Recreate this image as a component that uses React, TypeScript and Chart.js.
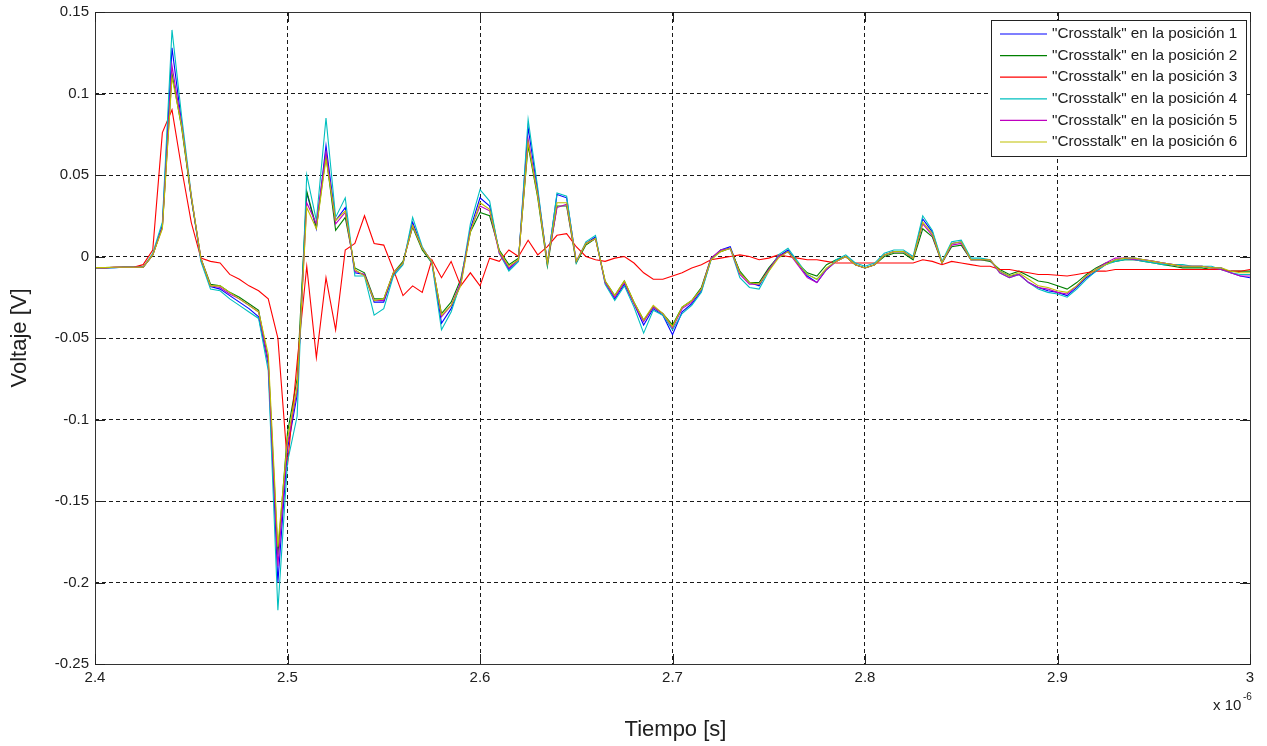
import React, { useEffect, useRef } from "react";
import { Chart, registerables } from "chart.js";

Chart.register(...registerables);

// Time axis: samples every 5 ns from 2.400 µs to 3.000 µs (121 samples)
const TIME_START_US = 2.4;
const TIME_STEP_US = 0.005;
const SAMPLE_COUNT = 121;

const X_TICK_LABELS = ["2.4", "2.5", "2.6", "2.7", "2.8", "2.9", "3"];
const Y_TICK_LABELS = ["0.15", "0.1", "0.05", "0", "-0.05", "-0.1", "-0.15", "-0.2", "-0.25"];

const SERIES_LABELS = [
  '"Crosstalk" en la posición 1',
  '"Crosstalk" en la posición 2',
  '"Crosstalk" en la posición 3',
  '"Crosstalk" en la posición 4',
  '"Crosstalk" en la posición 5',
  '"Crosstalk" en la posición 6',
];
const SERIES_COLORS = ["#0000ff", "#008000", "#ff0000", "#00bfbf", "#bf00bf", "#bfbf00"];

const POS1 = [
  -0.007, -0.007, -0.0068, -0.0066, -0.0066, -0.0066, 0.001, 0.019, 0.128, 0.082,
  0.036, -0.002, -0.0185, -0.02, -0.024, -0.028, -0.032, -0.037, -0.066, -0.2,
  -0.118, -0.085, 0.039, 0.017, 0.068, 0.022, 0.03, -0.01, -0.011, -0.028,
  -0.028, -0.011, -0.004, 0.021, 0.005, -0.003, -0.041, -0.032, -0.017, 0.017,
  0.036, 0.031, 0.003, -0.008, -0.002, 0.079, 0.04, -0.004, 0.038, 0.036,
  -0.003, 0.008, 0.012, -0.016, -0.026, -0.017, -0.029, -0.042, -0.032, -0.036,
  -0.048, -0.034, -0.029, -0.021, -0.002, 0.004, 0.006, -0.01, -0.016, -0.018,
  -0.008, 0.0, 0.004, -0.004, -0.012, -0.016, -0.008, -0.003, 0.0, -0.005,
  -0.007, -0.005, 0.001, 0.003, 0.003, -0.001, 0.023, 0.015, -0.004, 0.008,
  0.009, -0.002, -0.002, -0.002, -0.009, -0.012, -0.011, -0.016, -0.019, -0.021,
  -0.022, -0.024, -0.019, -0.013, -0.009, -0.005, -0.002, -0.001, -0.001, -0.002,
  -0.003, -0.004, -0.005, -0.006, -0.006, -0.006, -0.007, -0.007, -0.01, -0.012,
  -0.013,
];

const POS2 = [
  -0.0068, -0.0068, -0.0066, -0.0065, -0.0065, -0.0065, 0.001, 0.018, 0.112, 0.079,
  0.036, -0.001, -0.017, -0.018, -0.022, -0.025, -0.029, -0.033, -0.064, -0.183,
  -0.108, -0.075, 0.04, 0.018, 0.062, 0.016, 0.024, -0.007, -0.01, -0.026,
  -0.026, -0.01, -0.003, 0.018, 0.004, -0.004, -0.035, -0.028, -0.014, 0.015,
  0.027, 0.025, 0.004, -0.005, -0.001, 0.068, 0.036, -0.006, 0.031, 0.031,
  -0.004, 0.007, 0.011, -0.015, -0.024, -0.015, -0.028, -0.039, -0.031, -0.035,
  -0.042, -0.031, -0.027, -0.019, -0.001, 0.003, 0.005, -0.009, -0.016, -0.016,
  -0.007, 0.0, 0.003, -0.004, -0.01, -0.012, -0.005, -0.002, 0.0, -0.005,
  -0.007, -0.005, 0.0, 0.002, 0.002, -0.002, 0.017, 0.012, -0.004, 0.006,
  0.007, -0.002, -0.002, -0.003, -0.008, -0.011, -0.009, -0.012, -0.015, -0.016,
  -0.018, -0.02, -0.016, -0.011, -0.007, -0.004, -0.003, -0.002, -0.002, -0.003,
  -0.004, -0.005, -0.006, -0.007, -0.007, -0.007, -0.008, -0.008, -0.009, -0.009,
  -0.009,
];

const POS3 = [
  -0.007, -0.007, -0.0066, -0.0066, -0.0066, -0.005, 0.004, 0.076, 0.09, 0.054,
  0.021, -0.001, -0.003, -0.004, -0.011, -0.014, -0.018, -0.021, -0.026, -0.05,
  -0.128, -0.065, -0.006, -0.062, -0.013, -0.045, 0.004, 0.008, 0.025, 0.008,
  0.007, -0.008, -0.024, -0.018, -0.022, -0.002, -0.013, -0.003, -0.018, -0.01,
  -0.018, -0.001, -0.003, 0.004, 0.0, 0.01, 0.001, 0.006, 0.013, 0.014,
  0.006, 0.0, -0.002, -0.003, -0.001, 0.0, -0.004, -0.01, -0.014, -0.014,
  -0.012, -0.01, -0.007, -0.005, -0.002, -0.001, 0.0, 0.001, 0.0, -0.002,
  -0.001, 0.001, 0.0, -0.001, -0.002, -0.002, -0.003, -0.004, -0.004, -0.004,
  -0.004, -0.004, -0.004, -0.004, -0.004, -0.004, -0.002, -0.003, -0.005, -0.003,
  -0.004, -0.005, -0.006, -0.006, -0.008, -0.008, -0.009, -0.01, -0.011, -0.011,
  -0.0115, -0.012, -0.011, -0.01, -0.009, -0.009, -0.008, -0.008, -0.008, -0.008,
  -0.008, -0.008, -0.008, -0.008, -0.008, -0.008, -0.008, -0.008, -0.009, -0.009,
  -0.008,
];

const POS4 = [
  -0.007, -0.007, -0.0068, -0.0066, -0.0066, -0.0066, 0.002, 0.021, 0.139, 0.086,
  0.038, -0.003, -0.02, -0.021, -0.026, -0.03, -0.034, -0.038, -0.07, -0.217,
  -0.126, -0.098, 0.05, 0.022, 0.085, 0.024, 0.036, -0.012, -0.012, -0.036,
  -0.032, -0.012, -0.005, 0.024, 0.006, -0.004, -0.045, -0.034, -0.016, 0.02,
  0.041, 0.034, 0.002, -0.009, -0.003, 0.084, 0.042, -0.005, 0.039, 0.037,
  -0.004, 0.009, 0.013, -0.017, -0.027, -0.018, -0.031, -0.047, -0.033, -0.036,
  -0.045, -0.035, -0.03, -0.022, -0.002, 0.004, 0.005, -0.013, -0.019, -0.02,
  -0.009, 0.001, 0.005, -0.003, -0.011, -0.014, -0.008, -0.002, 0.001, -0.004,
  -0.006, -0.004, 0.002, 0.004, 0.004, 0.0, 0.025, 0.016, -0.003, 0.009,
  0.01, -0.001, -0.001, -0.002, -0.01, -0.013, -0.011, -0.016, -0.02, -0.022,
  -0.023, -0.025, -0.02, -0.014, -0.009, -0.005, -0.003, -0.002, -0.002, -0.003,
  -0.004, -0.005, -0.005, -0.005, -0.006, -0.006, -0.006, -0.008, -0.01, -0.011,
  -0.011,
];

const POS5 = [
  -0.0068, -0.007, -0.0066, -0.0066, -0.0066, -0.0066, 0.001, 0.018, 0.117, 0.081,
  0.037, -0.001, -0.018, -0.019, -0.023, -0.026, -0.03, -0.034, -0.065, -0.19,
  -0.115, -0.082, 0.033, 0.02, 0.064, 0.02, 0.027, -0.009, -0.011, -0.027,
  -0.027, -0.01, -0.004, 0.019, 0.005, -0.003, -0.037, -0.03, -0.016, 0.016,
  0.031, 0.028, 0.002, -0.007, -0.002, 0.072, 0.038, -0.004, 0.03, 0.032,
  -0.003, 0.008, 0.011, -0.016, -0.025, -0.016, -0.029, -0.04, -0.031, -0.035,
  -0.044, -0.032, -0.028, -0.02, -0.001, 0.004, 0.005, -0.011, -0.017, -0.017,
  -0.008, 0.0, 0.003, -0.005, -0.013, -0.016, -0.008, -0.003, 0.0, -0.005,
  -0.007, -0.005, 0.001, 0.003, 0.003, -0.001, 0.02, 0.013, -0.004, 0.007,
  0.008, -0.002, -0.002, -0.002, -0.01, -0.013, -0.011, -0.016, -0.019, -0.02,
  -0.022, -0.023, -0.018, -0.012, -0.008, -0.004, -0.001, -0.001, -0.002, -0.002,
  -0.003, -0.004, -0.005, -0.006, -0.006, -0.006, -0.007, -0.008, -0.01, -0.012,
  -0.012,
];

const POS6 = [
  -0.0068, -0.0068, -0.0066, -0.0066, -0.0066, -0.0066, 0.001, 0.017, 0.11, 0.08,
  0.037, -0.001, -0.018, -0.018, -0.022, -0.026, -0.03, -0.034, -0.06, -0.178,
  -0.112, -0.08, 0.03, 0.017, 0.06, 0.022, 0.028, -0.008, -0.012, -0.027,
  -0.026, -0.01, -0.004, 0.019, 0.005, -0.003, -0.036, -0.03, -0.018, 0.015,
  0.033, 0.029, 0.003, -0.006, -0.002, 0.07, 0.037, -0.004, 0.033, 0.033,
  -0.003, 0.008, 0.011, -0.015, -0.024, -0.015, -0.028, -0.039, -0.03, -0.035,
  -0.043, -0.031, -0.027, -0.02, -0.002, 0.003, 0.005, -0.01, -0.016, -0.017,
  -0.009, -0.001, 0.003, -0.004, -0.011, -0.014, -0.007, -0.003, 0.0, -0.005,
  -0.007, -0.005, 0.001, 0.003, 0.003, -0.001, 0.021, 0.014, -0.004, 0.008,
  0.009, -0.002, -0.002, -0.002, -0.009, -0.012, -0.01, -0.014, -0.018, -0.019,
  -0.021, -0.022, -0.018, -0.012, -0.008, -0.005, -0.002, -0.001, -0.001, -0.002,
  -0.003, -0.004, -0.005, -0.006, -0.006, -0.006, -0.007, -0.007, -0.009, -0.01,
  -0.01,
];

const SERIES_VALUES = [POS1, POS2, POS3, POS4, POS5, POS6];

const FONT = "'Liberation Sans', Arial, Helvetica, sans-serif";
const TEXT_COLOR = "#202020";

const framePlugin = {
  id: "matlabFrame",
  afterDraw(chart: any) {
    const { ctx, chartArea } = chart;
    const { left, right, top, bottom } = chartArea;
    const xs = chart.scales.x;
    const ys = chart.scales.y;
    ctx.save();

    // Axes box
    ctx.strokeStyle = "#333333";
    ctx.lineWidth = 1;
    ctx.setLineDash([]);
    ctx.strokeRect(Math.round(left) + 0.5, Math.round(top) + 0.5, Math.round(right - left), Math.round(bottom - top));

    // Inward tick marks
    const tl = 10;
    ctx.strokeStyle = "#222";
    ctx.beginPath();
    xs.ticks.forEach((t: any) => {
      const px = Math.round(xs.getPixelForValue(t.value)) + 0.5;
      ctx.moveTo(px, bottom);
      ctx.lineTo(px, bottom - tl);
      ctx.moveTo(px, top);
      ctx.lineTo(px, top + tl);
    });
    ys.ticks.forEach((t: any) => {
      const py = Math.round(ys.getPixelForValue(t.value)) + 0.5;
      ctx.moveTo(left, py);
      ctx.lineTo(left + tl, py);
      ctx.moveTo(right, py);
      ctx.lineTo(right - tl, py);
    });
    ctx.stroke();

    // Axis titles
    ctx.fillStyle = TEXT_COLOR;
    ctx.font = `22px ${FONT}`;
    ctx.textAlign = "center";
    ctx.textBaseline = "middle";
    ctx.fillText("Tiempo [s]", (left + right) / 2 + 3, 730);
    ctx.save();
    ctx.translate(20, (top + bottom) / 2);
    ctx.rotate(-Math.PI / 2);
    ctx.fillText("Voltaje [V]", 0, 0);
    ctx.restore();

    // Exponent label
    ctx.font = `15px ${FONT}`;
    ctx.textAlign = "left";
    ctx.textBaseline = "middle";
    ctx.fillText("x 10", 1213, 706);
    ctx.font = `10px ${FONT}`;
    ctx.fillText("-6", 1243, 697);

    // Legend
    const lx = 991.5, ly = 20.5, lw = 255, lh = 136;
    ctx.fillStyle = "#ffffff";
    ctx.fillRect(lx, ly, lw, lh);
    ctx.strokeStyle = "#222";
    ctx.lineWidth = 1;
    ctx.strokeRect(lx, ly, lw, lh);
    ctx.font = `15.3px ${FONT}`;
    ctx.textBaseline = "middle";
    ctx.textAlign = "left";
    SERIES_LABELS.forEach((label, i) => {
      const ry = 34 + i * 21.6;
      ctx.strokeStyle = SERIES_COLORS[i];
      ctx.lineWidth = 1.2;
      ctx.beginPath();
      ctx.moveTo(1000, ry);
      ctx.lineTo(1047, ry);
      ctx.stroke();
      ctx.fillStyle = TEXT_COLOR;
      ctx.fillText(label, 1052, ry);
    });

    ctx.restore();
  },
};

export default function App() {
  const canvasRef = useRef<HTMLCanvasElement | null>(null);

  useEffect(() => {
    const canvas = canvasRef.current;
    if (!canvas) return;
    const datasets = SERIES_VALUES.map((vals, si) => ({
      label: SERIES_LABELS[si],
      data: vals.map((v, i) => ({ x: TIME_START_US + i * TIME_STEP_US, y: v })).slice(0, SAMPLE_COUNT),
      borderColor: SERIES_COLORS[si],
      backgroundColor: SERIES_COLORS[si],
      borderWidth: 1.1,
      pointRadius: 0,
      tension: 0,
      fill: false,
      order: SERIES_VALUES.length - si,
    }));

    const chart = new Chart(canvas, {
      type: "line",
      data: { datasets },
      options: {
        animation: false,
        responsive: false,
        maintainAspectRatio: false,
        layout: { padding: { top: 12, right: 17, left: 0, bottom: 0 } },
        plugins: { legend: { display: false }, tooltip: { enabled: false } },
        scales: {
          x: {
            type: "linear",
            min: 2.4,
            max: 3.0,
            ticks: {
              stepSize: 0.1,
              autoSkip: false,
              maxRotation: 0,
              padding: 5,
              color: TEXT_COLOR,
              font: { family: FONT, size: 15 },
              callback: (value: any) => X_TICK_LABELS[Math.round((Number(value) - 2.4) / 0.1)] ?? "",
            },
            grid: { color: "#1a1a1a", lineWidth: 1, drawTicks: false },
            border: { display: false, dash: [4, 3] },
            afterFit: (s: any) => {
              s.height = 82;
              s.paddingLeft = 0;
              s.paddingRight = 0;
            },
          },
          y: {
            type: "linear",
            min: -0.25,
            max: 0.15,
            ticks: {
              stepSize: 0.05,
              autoSkip: false,
              padding: 6,
              color: TEXT_COLOR,
              font: { family: FONT, size: 15 },
              callback: (value: any) => Y_TICK_LABELS[Math.round((0.15 - Number(value)) / 0.05)] ?? "",
            },
            grid: { color: "#1a1a1a", lineWidth: 1, drawTicks: false },
            border: { display: false, dash: [4, 3] },
            afterFit: (s: any) => {
              s.width = 95;
              s.paddingTop = 0;
              s.paddingBottom = 0;
            },
          },
        },
      },
      plugins: [framePlugin],
    });
    return () => chart.destroy();
  }, []);

  return (
    <div style={{ position: "absolute", left: 0, top: 0, width: 1267, height: 746, background: "#fff" }}>
      <canvas ref={canvasRef} width={1267} height={746} style={{ display: "block" }} />
    </div>
  );
}
